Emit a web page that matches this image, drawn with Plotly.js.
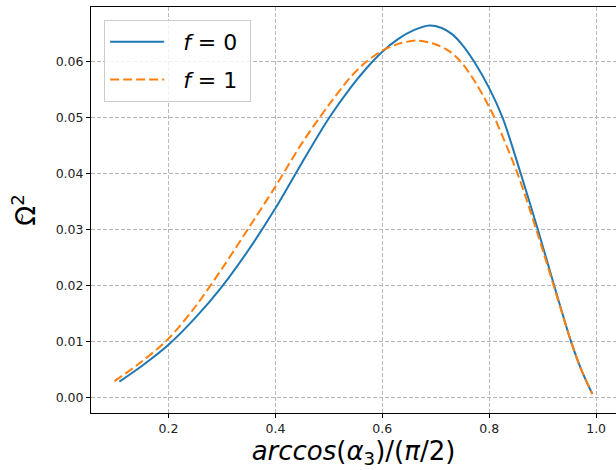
<!DOCTYPE html>
<html>
<head>
<meta charset="utf-8">
<script src="https://cdn.plot.ly/plotly-3.0.1.min.js"></script>
<style>html,body{margin:0;padding:0;background:#fff;}#chart{width:616px;height:470px;}</style>
</head>
<body>
<div id="chart"></div>
<script>
// f = 0 series
const xF0 = [0.108, 0.15, 0.2, 0.25, 0.3, 0.35, 0.4, 0.45, 0.5, 0.54, 0.57, 0.6, 0.63, 0.66, 0.688, 0.71, 0.73, 0.75, 0.772, 0.8, 0.825, 0.859, 0.891, 0.9215, 0.953, 0.972, 0.993];
const yF0 = [0.0028, 0.0056, 0.0094, 0.0142, 0.0198, 0.0264, 0.0338, 0.0420, 0.0499, 0.0553, 0.0588, 0.0618, 0.0641, 0.0657, 0.0665, 0.0661, 0.0650, 0.0630, 0.0600, 0.0553, 0.0500, 0.0400, 0.0300, 0.0200, 0.0100, 0.0050, 0.0006];
// f = 1 series
const xF1 = [0.099, 0.15, 0.2, 0.25, 0.3, 0.35, 0.4, 0.45, 0.5, 0.54, 0.57, 0.6, 0.63, 0.665, 0.7, 0.725, 0.747, 0.775, 0.8, 0.81, 0.853, 0.888, 0.9205, 0.953, 0.972, 0.993];
const yF1 = [0.0029, 0.0064, 0.0105, 0.0162, 0.0230, 0.0303, 0.0377, 0.0455, 0.0523, 0.0572, 0.0600, 0.0620, 0.0632, 0.0638, 0.0631, 0.0619, 0.0600, 0.0562, 0.0519, 0.0500, 0.0400, 0.0300, 0.0200, 0.0100, 0.0050, 0.0006];
const names = ['\u00a0\u00a0<i>f</i> = 0\u00a0', '\u00a0\u00a0<i>f</i> = 1\u00a0'];
const xTicks = [0.2, 0.4, 0.6, 0.8, 1.0];
const yTicks = [0.00, 0.01, 0.02, 0.03, 0.04, 0.05, 0.06];

const traces = [
  {x: xF0, y: yF0, name: names[0], legendgroup: 'a', mode: 'lines', line: {color: '#1f77b4', width: 2, shape: 'spline', smoothing: 0.9}},
  {x: xF1, y: yF1, name: names[1], legendgroup: 'b', mode: 'lines', line: {color: '#ff7f0e', width: 2, dash: '9px,4px', shape: 'spline', smoothing: 0.9}}
];
const tickFont = {family: 'DejaVu Sans', size: 12.5, color: '#222'};
const layout = {
  width: 616, height: 470,
  margin: {l: 91, r: 0, t: 7, b: 57},
  paper_bgcolor: '#fff', plot_bgcolor: '#fff',
  showlegend: true,
  legend: {x: 0.025, y: 0.968, xanchor: 'left', yanchor: 'top',
    font: {family: 'DejaVu Sans', size: 22, color: '#000'},
    bgcolor: 'rgba(255,255,255,0.8)', bordercolor: '#cccccc', borderwidth: 1,
    tracegroupgap: 6, itemwidth: 54},
  xaxis: {range: [0.055, 1.0372], tickvals: xTicks, tickformat: '.1f',
    ticks: 'outside', ticklen: 4, tickwidth: 1, tickcolor: '#000',
    showline: true, linecolor: '#000', linewidth: 1, mirror: true,
    showgrid: true, gridcolor: '#b8b8b8', gridwidth: 1, griddash: '4px,2px',
    zeroline: false, tickfont: tickFont,
    title: {text: '<i>arccos</i>(<i>α</i><sub>3</sub>)/(<i>π</i>/2)', font: {family: 'DejaVu Sans', size: 26, color: '#000'}, standoff: 6},
    automargin: false},
  yaxis: {range: [-0.0028, 0.0698], tickvals: yTicks, tickformat: '.2f',
    ticks: 'outside', ticklen: 4, tickwidth: 1, tickcolor: '#000',
    showline: true, linecolor: '#000', linewidth: 1, mirror: false,
    showgrid: true, gridcolor: '#b8b8b8', gridwidth: 1, griddash: '4px,2px',
    zeroline: false, tickfont: tickFont,
    title: {text: 'Ω<sup>2</sup>', font: {family: 'DejaVu Sans', size: 26, color: '#000'}, standoff: 12},
    automargin: false},
  annotations: [{
    text: '~', xref: 'paper', yref: 'paper', x: -0.134, y: 0.48,
    xanchor: 'center', yanchor: 'middle', showarrow: false, textangle: -90,
    font: {family: 'DejaVu Sans', size: 13, color: '#000'}
  }]
};
Plotly.newPlot('chart', traces, layout, {displayModeBar: false, staticPlot: true});
</script>
</body>
</html>
